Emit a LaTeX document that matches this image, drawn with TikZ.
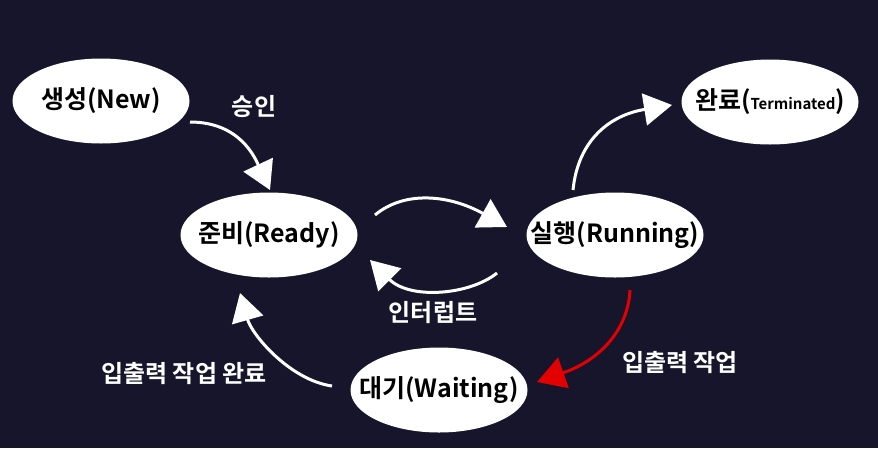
\documentclass[tikz,border=0pt]{standalone}
\usepackage{fontspec}
\setmainfont{Noto Sans CJK KR}[BoldFont={* Bold}]
\usetikzlibrary{shapes.geometric,arrows.meta}
\definecolor{bgc}{RGB}{22,21,43}
\definecolor{redc}{RGB}{226,0,0}
\newcommand{\zw}[1]{\makebox[0pt]{#1}}
\begin{document}
\begin{tikzpicture}[x=1pt,y=-1pt,
  state/.style={ellipse,fill=white,draw=none,minimum width=177pt,minimum height=85pt,inner sep=0pt,font=\fontsize{25}{28}\selectfont\bfseries,text=black},
  lbl/.style={font=\fontsize{24}{28}\selectfont\bfseries,text=white,inner sep=0pt},
  conn/.style={line width=3pt,draw=white,-{Triangle[length=28pt,width=32pt]}},
  redconn/.style={line width=3pt,draw=redc,-{Triangle[length=28pt,width=32pt]}}]
\fill[bgc] (0,0) rectangle (878,448);
\useasboundingbox (0,0) rectangle (878,448);
% coordinates for connector ends
\coordinate (a1s) at (190,122);
\coordinate (a1e) at (270,190);
\coordinate (a2s) at (375,215);
\coordinate (a2e) at (507,227);
\coordinate (a3s) at (497,273);
\coordinate (a3e) at (370,260);
\coordinate (a4s) at (573,190);
\coordinate (a4e) at (672,105);
\coordinate (a5s) at (630,290);
\coordinate (a5e) at (537,382);
\coordinate (a6s) at (332,386);
\coordinate (a6e) at (240,293);
% arrows
\draw[conn] (a1s) .. controls (240,122) and (255,158) .. (a1e);
\draw[conn] (a2s) .. controls (405,190) and (450,195) .. (a2e);
\draw[conn] (a3s) .. controls (470,295) and (410,300) .. (a3e);
\draw[conn] (a4s) .. controls (578,140) and (610,115) .. (a4e);
\draw[redconn] (a5s) .. controls (628,330) and (600,360) .. (a5e);
\draw[conn] (a6s) .. controls (290,380) and (252,335) .. (a6e);
% states
\node[state] (new) at (101,101) {\zw{생성(New)}};
\node[state] (ready) at (269,235) {\zw{준비(Ready)}};
\node[state] (run) at (615,235) {\zw{실행(Running)}};
\node[state] (term) at (770,102) {\zw{완료({\fontsize{15}{17}\selectfont Terminated})}};
\node[state] (wait) at (439,390) {\zw{대기(Waiting)}};
% labels
\node[lbl] (l1) at (254,107) {승인};
\node[lbl] (l2) at (433,313) {인터럽트};
\node[lbl] (l3) at (680,363) {입출력 작업};
\node[lbl] (l4) at (184,374) {입출력 작업 완료};
\end{tikzpicture}
\end{document}
